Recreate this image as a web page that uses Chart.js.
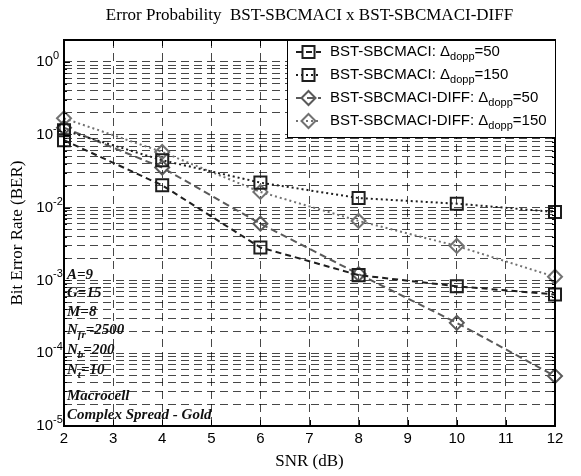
<!DOCTYPE html>
<html>
<head>
<meta charset="utf-8">
<script src="https://cdn.jsdelivr.net/npm/chart.js@4.4.1/dist/chart.umd.min.js"></script>
<style>
  html, body { margin: 0; padding: 0; background: #fff; }
</style>
</head>
<body>
<canvas id="ber" width="581" height="476"></canvas>
<script>
// SNR points (dB) and BER per scheme
const snr = [2, 4, 6, 8, 10, 12];
const ber50 = [0.084, 0.0202, 0.00283, 0.00118, 0.00083, 0.00064];
const ber150 = [0.115, 0.0446, 0.022, 0.0135, 0.0113, 0.0087];
const diff50 = [0.125, 0.0354, 0.0060, 0.00122, 0.000261, 0.0000485];
const diff150 = [0.168, 0.058, 0.0164, 0.00655, 0.00297, 0.00112];

const xTicks = [2, 3, 4, 5, 6, 7, 8, 9, 10, 11, 12];
const yExponents = [-5, -4, -3, -2, -1, 0];

const legendNames = ['BST-SBCMACI: \u0394', 'BST-SBCMACI: \u0394', 'BST-SBCMACI-DIFF: \u0394', 'BST-SBCMACI-DIFF: \u0394'];
const legendDopp = ['50', '150', '50', '150'];

// simulation parameters printed in the lower left corner
const notes = [
  [['A=9']],
  [['G=15']],
  [['M=8']],
  [['N'], ['fr', 'sub'], ['=2500']],
  [['N'], ['b', 'sub'], ['=200']],
  [['N'], ['t', 'sub'], ['=10']],
  [['Macrocell']],
  [['Complex Spread - Gold']]
];
const noteY = [275, 293, 312, 330, 350, 370, 396, 415];

const SANS = "'Liberation Sans', Arial, sans-serif";
const SERIF = "'Liberation Serif', 'Times New Roman', serif";

// every decade gets its 1..9 grid lines
const yGrid = [];
for (let e = -5; e < 0; e++) {
  for (let m = 1; m <= 9; m++) yGrid.push(m * Math.pow(10, e));
}
yGrid.push(1, 2);

const black = '#1e1e1e';
const grey = '#5a5a5a';
const grey2 = '#727272';

function series(label, vals, color, dash, style, radius) {
  return {
    label: label,
    data: snr.map((x, i) => ({ x: x, y: vals[i] })),
    borderColor: color,
    borderDash: dash,
    borderWidth: 2,
    pointStyle: style,
    pointRadius: radius,
    pointHoverRadius: radius,
    pointBorderWidth: 2,
    pointBorderColor: color,
    pointBackgroundColor: 'rgba(0,0,0,0)',
    fill: false,
    tension: 0,
    clip: false
  };
}

function drawParts(ctx, parts, x, y, size, family, style) {
  let cx = x;
  for (const p of parts) {
    const kind = p[1] || '';
    const fs = kind ? Math.round(size * 0.72) : size;
    ctx.font = style + ' ' + fs + 'px ' + family;
    const dy = kind === 'sub' ? size * 0.35 : (kind === 'sup' ? -size * 0.4 : 0);
    ctx.fillText(p[0], cx, y + dy);
    cx += ctx.measureText(p[0]).width;
  }
  return cx - x;
}

function marker(ctx, style, x, y, r, color) {
  ctx.save();
  ctx.setLineDash([]);
  ctx.strokeStyle = color;
  ctx.lineWidth = 2;
  ctx.beginPath();
  if (style === 'rect') {
    const s = r * Math.SQRT1_2;
    ctx.rect(x - s, y - s, 2 * s, 2 * s);
  } else {
    ctx.moveTo(x, y - r);
    ctx.lineTo(x + r, y);
    ctx.lineTo(x, y + r);
    ctx.lineTo(x - r, y);
    ctx.closePath();
  }
  ctx.stroke();
  ctx.restore();
}

const decorations = {
  id: 'decorations',
  beforeDraw(chart) {
    const ctx = chart.ctx;
    ctx.save();
    ctx.fillStyle = '#fff';
    ctx.fillRect(0, 0, chart.width, chart.height);
    ctx.restore();
  },
  afterDraw(chart) {
    const ctx = chart.ctx;
    const a = chart.chartArea;
    const xs = chart.scales.x;
    const ys = chart.scales.y;
    ctx.save();

    // notes
    ctx.fillStyle = '#111';
    ctx.textBaseline = 'middle';
    ctx.textAlign = 'left';
    notes.forEach((n, i) => drawParts(ctx, n, a.left + 3, noteY[i], 15, SERIF, 'italic bold'));

    // axes box and inward ticks
    ctx.strokeStyle = '#000';
    ctx.lineWidth = 1;
    ctx.setLineDash([]);
    ctx.beginPath();
    xTicks.forEach(v => {
      const px = Math.round(xs.getPixelForValue(v)) + 0.5;
      ctx.moveTo(px, a.bottom); ctx.lineTo(px, a.bottom - 6);
      ctx.moveTo(px, a.top); ctx.lineTo(px, a.top + 6);
    });
    yGrid.forEach(v => {
      const py = Math.round(ys.getPixelForValue(v)) + 0.5;
      const len = Math.abs(Math.log10(v) - Math.round(Math.log10(v))) < 1e-6 ? 6 : 3;
      ctx.moveTo(a.left, py); ctx.lineTo(a.left + len, py);
      ctx.moveTo(a.right, py); ctx.lineTo(a.right - len, py);
    });
    ctx.stroke();
    ctx.lineWidth = 2;
    ctx.strokeRect(a.left, a.top, a.right - a.left, a.bottom - a.top);

    // tick labels
    ctx.fillStyle = '#000';
    ctx.font = '15px ' + SANS;
    ctx.textAlign = 'center';
    ctx.textBaseline = 'middle';
    xTicks.forEach(v => ctx.fillText(String(v), xs.getPixelForValue(v), a.bottom + 13));

    ctx.textAlign = 'left';
    yExponents.forEach(e => {
      const py = ys.getPixelForValue(Math.pow(10, e));
      ctx.font = '15px ' + SANS;
      const w = ctx.measureText('10').width;
      drawParts(ctx, [['10'], [String(e), 'sup']], a.left - 11 - w, py, 15, SANS, '');
    });

    // titles
    ctx.font = '17px ' + SERIF;
    ctx.textAlign = 'center';
    ctx.fillText('Error Probability  BST-SBCMACI x BST-SBCMACI-DIFF', (a.left + a.right) / 2, 16);
    ctx.fillText('SNR (dB)', (a.left + a.right) / 2, 462);
    ctx.save();
    ctx.translate(18, (a.top + a.bottom) / 2);
    ctx.rotate(-Math.PI / 2);
    ctx.fillText('Bit Error Rate (BER)', 0, 0);
    ctx.restore();

    // legend
    const lx = 287, ly = a.top, lw = a.right - lx, lh = 97;
    ctx.fillStyle = '#fff';
    ctx.fillRect(lx, ly, lw, lh);
    ctx.lineWidth = 1;
    ctx.strokeStyle = '#000';
    ctx.strokeRect(lx + 0.5, ly + 0.5, lw, lh);
    chart.data.datasets.forEach((ds, i) => {
      const ry = ly + 12 + i * 23;
      ctx.save();
      ctx.strokeStyle = ds.borderColor;
      ctx.lineWidth = 2;
      ctx.setLineDash(ds.borderDash);
      ctx.beginPath();
      ctx.moveTo(296, ry); ctx.lineTo(321, ry);
      ctx.stroke();
      ctx.restore();
      marker(ctx, ds.pointStyle, 308.5, ry, ds.pointRadius, ds.pointBorderColor);
      ctx.fillStyle = '#000';
      ctx.textAlign = 'left';
      drawParts(ctx, [[legendNames[i]], ['dopp', 'sub'], ['=' + legendDopp[i]]], 330, ry, 15, SANS, '');
    });
    ctx.restore();
  }
};

new Chart(document.getElementById('ber'), {
  type: 'line',
  data: {
    datasets: [
      series('BST-SBCMACI: dopp=50', ber50, black, [6, 4], 'rect', 8.5),
      series('BST-SBCMACI: dopp=150', ber150, black, [2, 3], 'rect', 8.5),
      series('BST-SBCMACI-DIFF: dopp=50', diff50, grey, [7, 4], 'rectRot', 7),
      series('BST-SBCMACI-DIFF: dopp=150', diff150, grey2, [2, 3], 'rectRot', 7)
    ]
  },
  options: {
    responsive: false,
    animation: false,
    devicePixelRatio: 1,
    layout: { autoPadding: false, padding: { left: 64, right: 26, top: 40, bottom: 50 } },
    plugins: { legend: { display: false }, title: { display: false }, tooltip: { enabled: false } },
    scales: {
      x: {
        type: 'linear',
        min: 2,
        max: 12,
        afterBuildTicks: s => { s.ticks = xTicks.map(v => ({ value: v })); },
        ticks: { display: false },
        grid: { color: 'rgba(0,0,0,0.72)', lineWidth: 1, drawTicks: false },
        border: { display: false, dash: [8, 5] }
      },
      y: {
        type: 'logarithmic',
        min: 1e-5,
        max: 2,
        afterBuildTicks: s => { s.ticks = yGrid.map(v => ({ value: v })); },
        ticks: { display: false },
        grid: { color: 'rgba(0,0,0,0.72)', lineWidth: 1, drawTicks: false },
        border: { display: false, dash: [8, 5] }
      }
    }
  },
  plugins: [decorations]
});
</script>
</body>
</html>
